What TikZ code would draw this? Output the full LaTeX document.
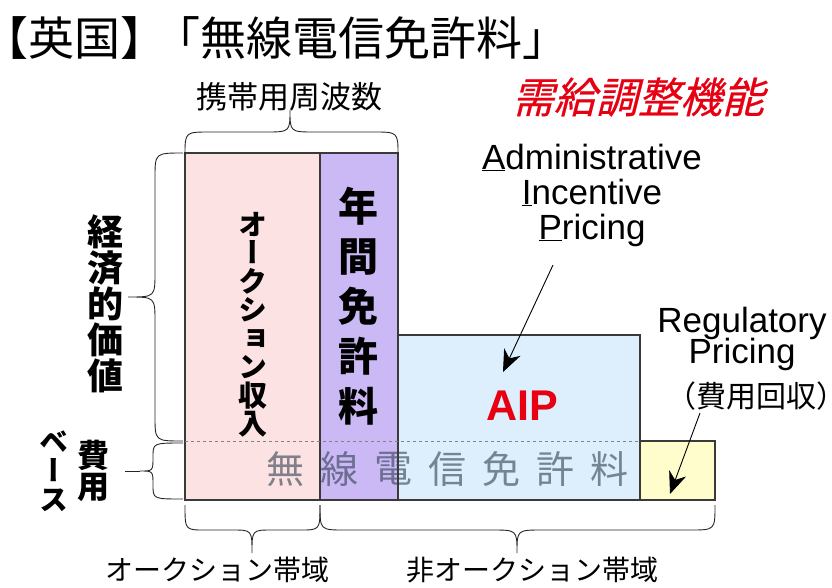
\documentclass[tikz,border=0pt]{standalone}
\usepackage{fontspec}
\setmainfont{Liberation Sans}
\newfontfamily\jpfont{Noto Sans CJK JP}
\newfontfamily\jptitle[RawFeature=+halt]{Noto Sans CJK JP}
\newfontfamily\jpvert[RawFeature=+vert]{Noto Sans CJK JP}
\newfontfamily\jpslant[FakeSlant=0.25, FakeBold=0.6]{Noto Sans CJK JP}
\usepackage{xcolor}
\usepackage{tikz}
\usetikzlibrary{calc}
\usetikzlibrary{arrows.meta}
\definecolor{auctionpink}{HTML}{FDE2E4}
\definecolor{licpurple}{HTML}{CBB9F6}
\definecolor{aipblue}{HTML}{DDEEFC}
\definecolor{rpyellow}{HTML}{FFFDCC}
\definecolor{edgegray}{HTML}{3A3A3A}
\definecolor{feegray}{HTML}{2E3E4E}
\definecolor{titlered}{HTML}{E60012}
\lineskiplimit=-\maxdimen

\begin{document}
\begin{tikzpicture}[x=1pt, y=-1pt,
  box/.style={draw=edgegray, line width=1.1pt},
  curly/.style={line width=0.9pt, black!85},
  pointer/.style={line width=0.9pt, ->, >={Stealth[length=22pt, width=18pt, inset=7pt]}},
  vtext/.style={align=center, inner sep=0},
  fee/.style={inner sep=0, text=feegray, text opacity=0.6, font=\jpfont\fontsize{38}{38}\selectfont},
  jplight/.style={inner sep=0, font=\jpfont\fontsize{28}{28}\selectfont}]
\useasboundingbox (0,0) rectangle (832,587);
% boxes
\filldraw[box, fill=auctionpink] (185,153) rectangle (320,500);
\filldraw[box, fill=licpurple] (320,153) rectangle (398,500);
\filldraw[box, fill=aipblue] (398,335) rectangle (640,500);
\filldraw[box, fill=rpyellow] (640,441) rectangle (715,500);
\draw[dashed, gray, line width=0.7pt] (185,441) -- (640,441);

% title
\node[anchor=west, inner sep=0, font=\jptitle\fontsize{46}{46}\selectfont] (title) at (5,38)
  {【英国】\hspace{34pt}「無線電信免許料」};
\node[inner sep=0, font=\jpslant\fontsize{42}{42}\selectfont, text=titlered] (balance) at (638,97) {需給調整機能};

% braces
\draw[curly] (185,155) .. controls (185,132) .. (210,132) -- (265,132) .. controls (290,132) .. (290,110)
  .. controls (290,132) .. (315,132) -- (373,132) .. controls (398,132) .. (398,155);
\node[jplight, font=\jpfont\fontsize{31}{31}\selectfont] (mobile) at (289,97) {携帯用周波数};
\draw[curly] (183,153) .. controls (155,153) .. (155,178) -- (155,272) .. controls (155,297) .. (128,297)
  .. controls (155,297) .. (155,322) -- (155,416) .. controls (155,441) .. (183,441);
\draw[curly] (183,443) .. controls (153,443) .. (153,457) .. controls (153,471) .. (140,471)
  .. controls (153,471) .. (153,485) .. controls (153,499) .. (183,499);
\draw[curly] (140,471) -- (125,471);
\draw[curly] (185,505) .. controls (185,530) .. (205,530) -- (232,530) .. controls (252,530) .. (252,553)
  .. controls (252,530) .. (272,530) -- (300,530) .. controls (320,530) .. (320,505);
\draw[curly] (320,505) .. controls (320,530) .. (345,530) -- (492,530) .. controls (517,530) .. (517,553)
  .. controls (517,530) .. (542,530) -- (690,530) .. controls (715,530) .. (715,505);

% left labels
\node[vtext, font=\jpvert\bfseries\fontsize{36}{36}\selectfont] (econ) at (105,304) {経\\済\\的\\価\\値};
\node[vtext, font=\jpvert\bfseries\fontsize{29}{29}\selectfont] (base) at (54,471) {ベ\\ー\\ス};
\node[vtext, font=\jpvert\bfseries\fontsize{32}{31}\selectfont] (cost) at (93,471) {費\\用};

% bottom labels
\node[jplight] (auctband) at (217,570) {オークション帯域};
\node[jplight] (nonauctband) at (532,570) {非オークション帯域};

% texts in boxes
\node[vtext, font=\jpvert\bfseries\fontsize{29}{28.5}\selectfont] (auction) at (253,325) {オ\\ー\\ク\\シ\\ョ\\ン\\収\\入};
\node[vtext, font=\jpvert\bfseries\fontsize{40}{50}\selectfont] (annual) at (358,306) {年\\間\\免\\許\\料};
\foreach \c [count=\i from 0] in {無,線,電,信,免,許,料}
  \node[fee] (fee\i) at (285+54*\i,469) {\c};
\node[inner sep=0, text=titlered, font=\bfseries\fontsize{43}{43}\selectfont] (aip) at (522,406) {AIP};

% pricing labels
\node[align=center, inner sep=0, font=\fontsize{35}{35}\selectfont] (aipLabel) at (592,195)
  {\underline{A}dministrative\\\underline{I}ncentive\\\underline{P}ricing};
\node[align=center, inner sep=0, font=\fontsize{35}{31}\selectfont] (rpLabel) at (742,339) {Regulatory\\Pricing};
\node[jplight, font=\jptitle\fontsize{30}{30}\selectfont] (recovery) at (756,396) {（費用回収）};

% arrows
\coordinate (aipTail) at (553,265);
\coordinate (aipHead) at (503,372);
\draw[pointer] (aipTail) -- (aipHead);
\coordinate (rpTail) at (700,413);
\coordinate (rpHead) at (670,494);
\draw[pointer] (rpTail) -- (rpHead);
\end{tikzpicture}
\end{document}
